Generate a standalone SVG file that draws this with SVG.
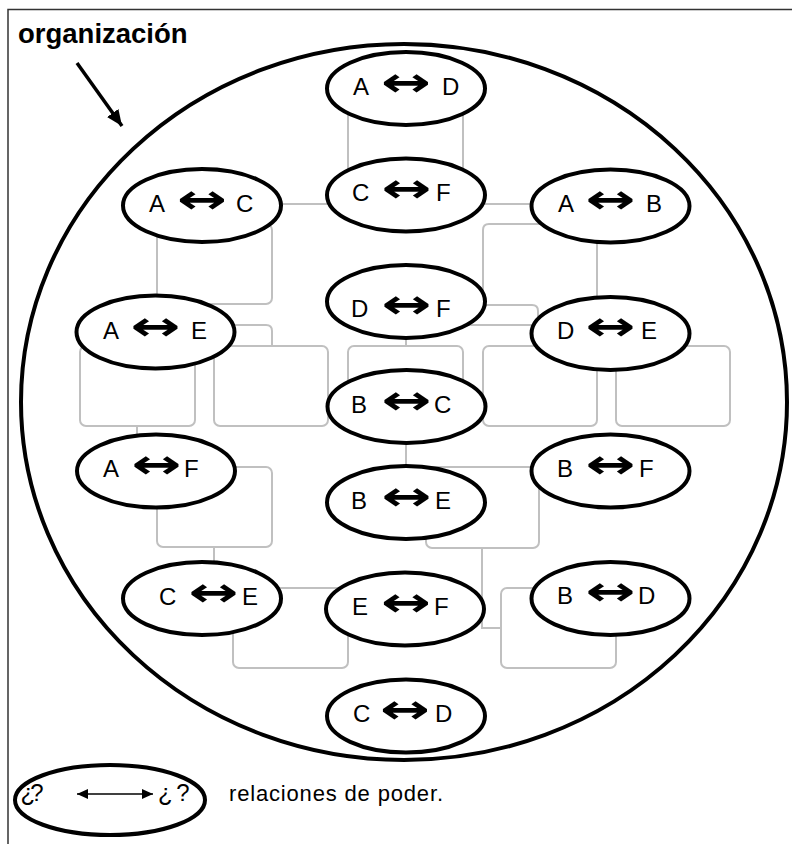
<svg xmlns="http://www.w3.org/2000/svg" width="792" height="844" viewBox="0 0 792 844">
<style>
.lbl{font-family:"Liberation Sans",Arial,sans-serif;font-size:24px;fill:#000}
.arr{font-family:"DejaVu Sans",sans-serif;font-weight:bold;font-size:40px;text-anchor:middle;fill:#000}
.node{fill:#fff;stroke:#000;stroke-width:4}
.conn{fill:none;stroke:#c0c0c0;stroke-width:2}
</style>
<defs>
<marker id="head" markerUnits="userSpaceOnUse" markerWidth="18" markerHeight="14" refX="16" refY="7" orient="auto">
<path d="M0,0 L16,7 L0,14 Z" fill="#000"/>
</marker>
<marker id="lh" markerUnits="userSpaceOnUse" markerWidth="12" markerHeight="10" refX="11" refY="5" orient="auto-start-reverse">
<path d="M0,0 L11,5 L0,10 Z" fill="#000"/>
</marker>
</defs>
<rect width="792" height="844" fill="#fff"/>
<path d="M8,844 V9.5 H792" fill="none" stroke="#333" stroke-width="1.5"/>

<g id="connectors">
<rect class="conn" x="348" y="100" width="115" height="82" rx="6"/>
<rect class="conn" x="157" y="224" width="115" height="80" rx="6"/>
<line class="conn" x1="270" y1="204" x2="540" y2="204"/>
<path class="conn" d="M483,300 V230 Q483,224 489,224 H550"/>
<line class="conn" x1="597" y1="235" x2="597" y2="305"/>
<path class="conn" d="M480,305 H532 Q538,305 538,311 V328"/>
<line class="conn" x1="460" y1="325" x2="545" y2="325"/>
<path class="conn" d="M225,325 H266 Q272,325 272,331 V346"/>
<line class="conn" x1="406" y1="330" x2="406" y2="346"/>
<rect class="conn" x="80" y="346" width="115" height="80" rx="6"/>
<rect class="conn" x="214" y="346" width="114" height="80" rx="6"/>
<rect class="conn" x="348" y="346" width="115" height="80" rx="6"/>
<rect class="conn" x="483" y="346" width="114" height="80" rx="6"/>
<rect class="conn" x="616" y="346" width="114" height="80" rx="6"/>
<line class="conn" x1="137" y1="426" x2="137" y2="445"/>
<line class="conn" x1="406" y1="440" x2="406" y2="470"/>
<rect class="conn" x="157" y="467" width="115" height="80" rx="6"/>
<rect class="conn" x="426" y="467" width="113" height="81" rx="6"/>
<line class="conn" x1="214" y1="547" x2="214" y2="565"/>
<path class="conn" d="M482,548 V628 H501" stroke-width="2.5"/>
<rect class="conn" x="233" y="588" width="115" height="80" rx="6"/>
<rect class="conn" x="501" y="588" width="115" height="80" rx="6"/>
</g>

<g id="n-AD"><ellipse class="node" cx="406" cy="88.5" rx="79" ry="36.5"/><text class="lbl" y="95"><tspan x="353">A</tspan> <tspan x="442">D</tspan></text><text class="arr" transform="translate(406,96.3) scale(1.49,1)">↔</text></g>
<g id="n-CF"><ellipse class="node" cx="406" cy="195" rx="79" ry="36.5"/><text class="lbl" y="201"><tspan x="352">C</tspan> <tspan x="436">F</tspan></text><text class="arr" transform="translate(406.5,202.3) scale(1.49,1)">↔</text></g>
<g id="n-DF"><ellipse class="node" cx="406" cy="301.5" rx="79" ry="36.5"/><text class="lbl" y="317"><tspan x="351">D</tspan> <tspan x="436">F</tspan></text><text class="arr" transform="translate(406.5,318.3) scale(1.49,1)">↔</text></g>
<g id="n-BC"><ellipse class="node" cx="406.5" cy="406.5" rx="79" ry="36.5"/><text class="lbl" y="413"><tspan x="351">B</tspan> <tspan x="434">C</tspan></text><text class="arr" transform="translate(406.5,414.3) scale(1.49,1)">↔</text></g>
<g id="n-BE"><ellipse class="node" cx="406" cy="502.5" rx="79" ry="36.5"/><text class="lbl" y="509"><tspan x="351">B</tspan> <tspan x="435">E</tspan></text><text class="arr" transform="translate(406.5,510.3) scale(1.49,1)">↔</text></g>
<g id="n-EF"><ellipse class="node" cx="405" cy="609" rx="79" ry="36.5"/><text class="lbl" y="615"><tspan x="352">E</tspan> <tspan x="434">F</tspan></text><text class="arr" transform="translate(406,616.3) scale(1.49,1)">↔</text></g>
<g id="n-CD"><ellipse class="node" cx="406" cy="716" rx="79" ry="36.5"/><text class="lbl" y="722"><tspan x="353">C</tspan> <tspan x="435">D</tspan></text><text class="arr" transform="translate(405,723.3) scale(1.49,1)">↔</text></g>
<g id="n-AC"><ellipse class="node" cx="202" cy="205.5" rx="79" ry="36.5"/><text class="lbl" y="212"><tspan x="149">A</tspan> <tspan x="236">C</tspan></text><text class="arr" transform="translate(202,213.3) scale(1.49,1)">↔</text></g>
<g id="n-AE"><ellipse class="node" cx="155.5" cy="332" rx="79" ry="36.5"/><text class="lbl" y="339"><tspan x="103">A</tspan> <tspan x="191">E</tspan></text><text class="arr" transform="translate(155.5,340.3) scale(1.49,1)">↔</text></g>
<g id="n-AF"><ellipse class="node" cx="156" cy="471" rx="79" ry="36.5"/><text class="lbl" y="477"><tspan x="103">A</tspan> <tspan x="184">F</tspan></text><text class="arr" transform="translate(156.5,478.3) scale(1.49,1)">↔</text></g>
<g id="n-CE"><ellipse class="node" cx="202" cy="598.5" rx="79" ry="36.5"/><text class="lbl" y="605"><tspan x="159">C</tspan> <tspan x="242">E</tspan></text><text class="arr" transform="translate(213.5,606.3) scale(1.49,1)">↔</text></g>
<g id="n-AB"><ellipse class="node" cx="610.5" cy="206" rx="79" ry="36.5"/><text class="lbl" y="212"><tspan x="558">A</tspan> <tspan x="646">B</tspan></text><text class="arr" transform="translate(610.5,213.3) scale(1.49,1)">↔</text></g>
<g id="n-DE"><ellipse class="node" cx="610.5" cy="333.5" rx="79" ry="36.5"/><text class="lbl" y="339"><tspan x="557">D</tspan> <tspan x="641">E</tspan></text><text class="arr" transform="translate(610.5,340.3) scale(1.49,1)">↔</text></g>
<g id="n-BF"><ellipse class="node" cx="610.5" cy="471" rx="79" ry="36.5"/><text class="lbl" y="477"><tspan x="557">B</tspan> <tspan x="639">F</tspan></text><text class="arr" transform="translate(610.5,478.3) scale(1.49,1)">↔</text></g>
<g id="n-BD"><ellipse class="node" cx="610.5" cy="598.5" rx="79" ry="36.5"/><text class="lbl" y="604"><tspan x="557">B</tspan> <tspan x="638">D</tspan></text><text class="arr" transform="translate(610.5,605.3) scale(1.49,1)">↔</text></g>

<g id="organizacion">
<ellipse cx="404" cy="402" rx="383" ry="358" fill="none" stroke="#000" stroke-width="4"/>
<text x="18" y="42.5" font-family="Liberation Sans, Arial, sans-serif" font-size="27.5" font-weight="bold">organización</text>
<line x1="77" y1="63" x2="122" y2="126" stroke="#000" stroke-width="3.5" marker-end="url(#head)"/>
</g>

<g id="legend">
<ellipse class="node" cx="110" cy="800" rx="95" ry="35"/>
<text class="lbl" x="20.5" y="801" letter-spacing="-5">¿?</text>
<line x1="77" y1="794" x2="153" y2="794" stroke="#000" stroke-width="1.5" marker-start="url(#lh)" marker-end="url(#lh)"/>
<text class="lbl" x="158" y="801" letter-spacing="3.5">¿?</text>
<text x="229" y="801" font-family="Liberation Sans, Arial, sans-serif" font-size="22" textLength="214" lengthAdjust="spacing">relaciones de poder.</text>
</g>
</svg>
